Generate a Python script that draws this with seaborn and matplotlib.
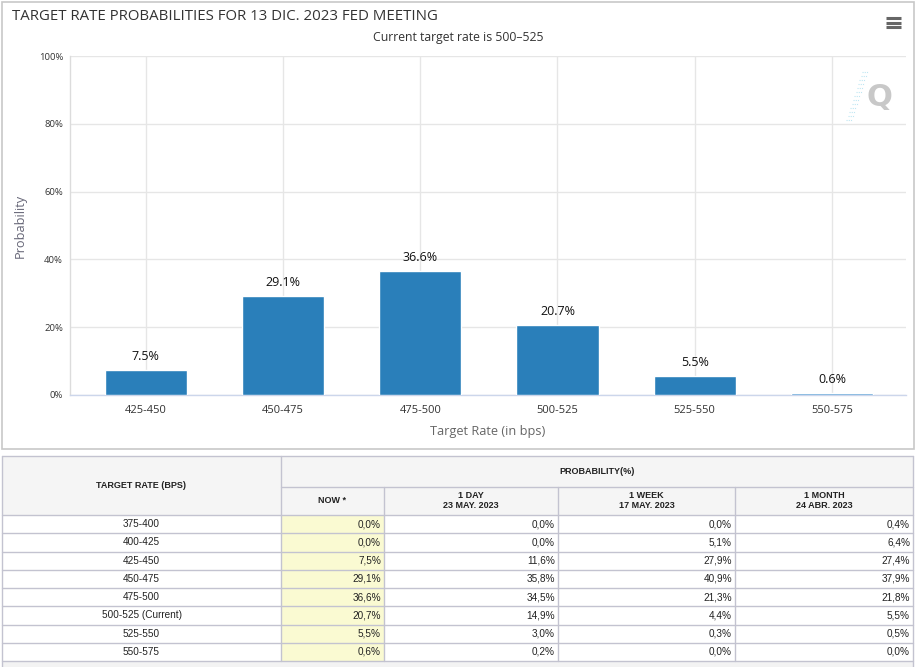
import matplotlib
matplotlib.use("Agg")
import matplotlib.pyplot as plt
import matplotlib.patches as mpatches
import seaborn as sns
import pandas as pd

# ---------------- data ----------------
rates = ["375-400", "400-425", "425-450", "450-475", "475-500",
         "500-525 (Current)", "525-550", "550-575"]
now_prob = [0.0, 0.0, 7.5, 29.1, 36.6, 20.7, 5.5, 0.6]
day_prob = [0.0, 0.0, 11.6, 35.8, 34.5, 14.9, 3.0, 0.2]
week_prob = [0.0, 5.1, 27.9, 40.9, 21.3, 4.4, 0.3, 0.0]
month_prob = [0.4, 6.4, 27.4, 37.9, 21.8, 5.5, 0.5, 0.0]

bar_categories = ["425-450", "450-475", "475-500", "500-525", "525-550", "550-575"]
bar_probs = [7.5, 29.1, 36.6, 20.7, 5.5, 0.6]
y_ticks = [0, 20, 40, 60, 80, 100]

col_headers = ["NOW *", "1 DAY\n23 MAY. 2023", "1 WEEK\n17 MAY. 2023", "1 MONTH\n24 ABR. 2023"]

title = "TARGET RATE PROBABILITIES FOR 13 DIC. 2023 FED MEETING"
subtitle = "Current target rate is 500\u2013525"

# ---------------- figure ----------------
sns.set_theme(style="white")
plt.rcParams["font.family"] = ["Open Sans", "DejaVu Sans"]

W, H = 917, 667
fig = plt.figure(figsize=(W / 100, H / 100), dpi=100)
fig.patch.set_facecolor("white")

# background axes in pixel coordinates for panel / table
bg = fig.add_axes([0, 0, 1, 1], zorder=0)
bg.set_xlim(0, W)
bg.set_ylim(H, 0)
bg.axis("off")

# chart panel border
bg.add_patch(mpatches.Rectangle((1.5, 1.5), 912, 447, fill=False,
                                edgecolor="#c8c8c8", lw=1.2))

# title and subtitle
bg.text(12, 16, title, fontsize=10.8, color="#333333", va="center", ha="left")
bg.text(458, 38, subtitle, fontsize=8.8, color="#333333", va="center", ha="center")

# hamburger menu icon
for yy in (18, 22.5, 27):
    bg.plot([886, 901], [yy, yy], color="#666666", lw=2.2, solid_capstyle="butt")

# watermark Q
bg.text(879, 98, "Q", fontsize=22, fontweight="bold", color="#c8c8c8",
        ha="center", va="center", family=["DejaVu Sans"])
for i, yy in enumerate(range(72, 124, 4)):
    x0 = 868 - i * 1.3
    bg.plot([x0 - 6, x0], [yy, yy], color="#bfe6f2", lw=0.8, ls=(0, (1, 1)))

# ---------------- bar chart ----------------
ax_left, ax_right, ax_top, ax_bottom = 70, 906, 56, 395
ax = fig.add_axes([ax_left / W, (H - ax_bottom) / H,
                   (ax_right - ax_left) / W, (ax_bottom - ax_top) / H], zorder=2)
ax.patch.set_alpha(0)

df = pd.DataFrame({"rate": bar_categories, "prob": bar_probs})
palette = ["#2a7fba"] * (len(bar_categories) - 1) + ["#4a95d0"]
sns.barplot(data=df, x="rate", y="prob", hue="rate", palette=palette,
            legend=False, width=0.6, ax=ax, saturation=1, zorder=3)

ax.set_xlim(-0.553, len(bar_categories) - 1 + 0.54)
ax.set_ylim(0, 100)
ax.set_yticks(y_ticks)
ax.set_yticklabels([f"{t}%" for t in y_ticks], fontsize=6.8, color="#333333")
ax.tick_params(axis="x", labelsize=8, labelcolor="#333333", length=0, pad=7)
ax.tick_params(axis="y", length=0, pad=5)

ax.grid(True, axis="both", color="#e6e6e6", lw=1)
ax.set_axisbelow(True)
for s in ("top", "right"):
    ax.spines[s].set_visible(False)
ax.spines["bottom"].set_color("#ccd6eb")
ax.spines["bottom"].set_linewidth(1)
ax.spines["left"].set_color("#dcdcdc")
ax.spines["left"].set_linewidth(1)

ax.set_xlabel("Target Rate (in bps)", fontsize=9.2, color="#666666")
ax.set_ylabel("Probability", fontsize=9.2, color="#666677")
ax.xaxis.set_label_coords(0.5, -0.088)
ax.yaxis.set_label_coords(-0.052, 0.5)

for i, v in enumerate(bar_probs):
    ax.annotate(f"{v:.1f}%", (i, v), xytext=(0, 5), textcoords="offset points",
                ha="center", va="bottom", fontsize=9, color="#111111")

# ---------------- table ----------------
tfont = ["Liberation Sans Narrow", "Liberation Sans", "DejaVu Sans"]
grid_c = "#c3c3d0"
x_cols = [2, 281, 384, 558, 735, 913]
t_top, sub_top, head_bot = 456, 487, 515
row_h = 18.25
n_rows = len(rates)
body_bot = head_bot + row_h * n_rows

# header background
bg.add_patch(mpatches.Rectangle((x_cols[0], t_top), x_cols[-1] - x_cols[0],
                                head_bot - t_top, facecolor="#f5f5f5",
                                edgecolor="none"))
# NOW column yellow
bg.add_patch(mpatches.Rectangle((x_cols[1], head_bot), x_cols[2] - x_cols[1],
                                body_bot - head_bot, facecolor="#fafad2",
                                edgecolor="none"))
# footer
bg.add_patch(mpatches.Rectangle((x_cols[0], body_bot), x_cols[-1] - x_cols[0],
                                H - body_bot + 2, facecolor="#f3f3f3",
                                edgecolor="none"))

# outer borders
bg.plot([x_cols[0], x_cols[-1]], [t_top, t_top], color=grid_c, lw=1)
bg.plot([x_cols[0], x_cols[0]], [t_top, H], color=grid_c, lw=1)
bg.plot([x_cols[-1], x_cols[-1]], [t_top, H], color=grid_c, lw=1)
# header lines
bg.plot([x_cols[1], x_cols[-1]], [sub_top, sub_top], color=grid_c, lw=1)
bg.plot([x_cols[1], x_cols[1]], [t_top, body_bot], color=grid_c, lw=1)
for xc in x_cols[2:-1]:
    bg.plot([xc, xc], [sub_top, body_bot], color=grid_c, lw=1)
for r in range(n_rows + 1):
    yy = head_bot + r * row_h
    bg.plot([x_cols[0], x_cols[-1]], [yy, yy], color=grid_c, lw=1)

# header texts
hsize = 6.5
bg.text((x_cols[0] + x_cols[1]) / 2, 486, "TARGET RATE (BPS)", fontsize=hsize,
        fontweight="bold", color="#222222", ha="center", va="center", family=tfont)
bg.text((x_cols[1] + x_cols[-1]) / 2, 471, "PROBABILITY(%)", fontsize=hsize,
        fontweight="bold", color="#222222", ha="center", va="center", family=tfont)
for j, h in enumerate(col_headers):
    bg.text((x_cols[j + 1] + x_cols[j + 2]) / 2, 500.5, h, fontsize=hsize,
            fontweight="bold", color="#222222", ha="center", va="center",
            family=tfont, linespacing=1.15)

# body
bsize = 7.2
columns = [now_prob, day_prob, week_prob, month_prob]
for r in range(n_rows):
    yc = head_bot + (r + 0.5) * row_h
    bg.text((x_cols[0] + x_cols[1]) / 2, yc, rates[r], fontsize=bsize,
            color="#222222", ha="center", va="center", family=tfont)
    for j, col in enumerate(columns):
        txt = f"{col[r]:.1f}".replace(".", ",") + "%"
        bg.text(x_cols[j + 2] - 3, yc, txt, fontsize=bsize, color="#222222",
                ha="right", va="center", family=tfont)

fig.savefig("out.png", dpi=100)
